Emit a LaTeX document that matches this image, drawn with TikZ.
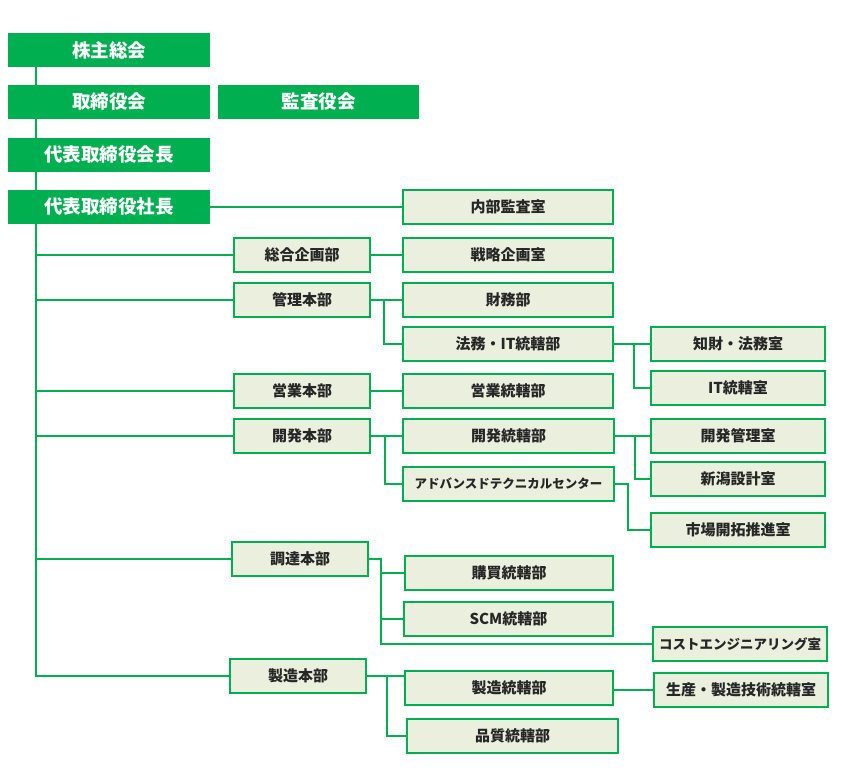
\documentclass[tikz,border=0pt]{standalone}
\usepackage{fontspec}
\newfontfamily\jp{Noto Sans CJK JP}
\usetikzlibrary{backgrounds}
\definecolor{grn}{HTML}{00B050}
\definecolor{lfill}{HTML}{EBEFDD}
\definecolor{txt}{HTML}{262626}
\tikzset{
 gbox/.style={anchor=north west, fill=grn, text=white, font=\jp\bfseries\fontsize{18.5}{18.5}\selectfont, minimum height=34pt, inner sep=0pt, outer sep=0pt},
 lbox/.style={anchor=north west, fill=lfill, draw=grn, line width=1.2pt, text=txt, font=\jp\bfseries\fontsize{15}{15}\selectfont, minimum height=34pt, inner sep=0pt, outer sep=0pt},
 conn/.style={draw=grn, line width=2pt},
}
\begin{document}
\begin{tikzpicture}[x=1pt,y=-1pt]
\useasboundingbox (0,0) rectangle (849,781);
% executive boxes
\node[gbox, minimum width=202pt] (kabu) at (8,33) {株主総会};
\node[gbox, minimum width=202pt] (tori) at (8,85) {取締役会};
\node[gbox, minimum width=201pt] (kansa) at (218,85) {監査役会};
\node[gbox, minimum width=202pt] (kaicho) at (8,138) {代表取締役会長};
\node[gbox, minimum width=202pt] (shacho) at (8,190) {代表取締役社長};
% departments
\node[lbox, minimum width=210pt] (naibu) at (403,190) {内部監査室};
\node[lbox, minimum width=136pt] (sogo) at (234,238) {総合企画部};
\node[lbox, minimum width=210pt] (senryaku) at (403,238) {戦略企画室};
\node[lbox, minimum width=136pt] (kanri) at (234,283) {管理本部};
\node[lbox, minimum width=210pt] (zaimu) at (403,283) {財務部};
\node[lbox, minimum width=210pt] (homu) at (403,327) {法務・IT統轄部};
\node[lbox, minimum width=174pt] (chizai) at (651,327) {知財・法務室};
\node[lbox, minimum width=174pt] (itr) at (651,371) {IT統轄室};
\node[lbox, minimum width=136pt] (eigyo) at (234,374) {営業本部};
\node[lbox, minimum width=210pt] (eigyot) at (403,374) {営業統轄部};
\node[lbox, minimum width=136pt] (kaihatsu) at (234,419) {開発本部};
\node[lbox, minimum width=211pt] (kaihatsut) at (403,419) {開発統轄部};
\node[lbox, minimum width=211pt, font=\jp\bfseries\fontsize{12.5}{12.5}\selectfont] (atc) at (403,467) {アドバンスドテクニカルセンター};
\node[lbox, minimum width=174pt] (kanrishitsu) at (651,419) {開発管理室};
\node[lbox, minimum width=174pt] (niigata) at (651,462) {新潟設計室};
\node[lbox, minimum width=174pt] (shijo) at (651,513) {市場開拓推進室};
\node[lbox, minimum width=136pt] (chotatsu) at (232,542) {調達本部};
\node[lbox, minimum width=208pt] (kobai) at (405,556) {購買統轄部};
\node[lbox, minimum width=209pt] (scm) at (404,602) {SCM統轄部};
\node[lbox, minimum width=174pt, font=\jp\bfseries\fontsize{13.5}{13.5}\selectfont] (cost) at (653,627) {コストエンジニアリング室};
\node[lbox, minimum width=136pt] (seizo) at (230,659) {製造本部};
\node[lbox, minimum width=208pt] (seizot) at (405,671) {製造統轄部};
\node[lbox, minimum width=174pt] (seisan) at (654,673) {生産・製造技術統轄室};
\node[lbox, minimum width=211pt] (hinshitsu) at (407,719) {品質統轄部};
% connectors
\begin{scope}[on background layer]
\fill[white] (0,0) rectangle (849,781);
\coordinate (tx) at (36,0);
\draw[conn] (kabu.south -| tx) -- (seizo.west -| tx) -- (seizo.west);
\draw[conn] (sogo.west -| tx) -- (sogo.west);
\draw[conn] (kanri.west -| tx) -- (kanri.west);
\draw[conn] (eigyo.west -| tx) -- (eigyo.west);
\draw[conn] (kaihatsu.west -| tx) -- (kaihatsu.west);
\draw[conn] (chotatsu.west -| tx) -- (chotatsu.west);
\draw[conn] (shacho.east) -- (shacho.east -| naibu.west);
\draw[conn] (sogo.east) -- (sogo.east -| senryaku.west);
\draw[conn] (kanri.east) -- (kanri.east -| zaimu.west);
\draw[conn] (kanri.east) ++(14,0) |- (homu.west);
\draw[conn] (homu.east) -- (homu.east -| chizai.west);
\draw[conn] (homu.east) ++(21,0) |- (itr.west);
\draw[conn] (eigyo.east) -- (eigyo.east -| eigyot.west);
\draw[conn] (kaihatsu.east) -- (kaihatsu.east -| kaihatsut.west);
\draw[conn] (kaihatsu.east) ++(15,0) |- (atc.west);
\draw[conn] (kaihatsut.east) -- (kaihatsut.east -| kanrishitsu.west);
\draw[conn] (kaihatsut.east) ++(21,0) |- (niigata.west);
\draw[conn] (atc.east) -- ++(14,0) |- (shijo.west);
\draw[conn] (chotatsu.east) -- ++(13,0) |- (cost.west);
\draw[conn] (chotatsu.east) ++(13,0) |- (kobai.west);
\draw[conn] (chotatsu.east) ++(13,0) |- (scm.west);
\draw[conn] (seizo.east) -- (seizo.east -| seizot.west);
\draw[conn] (seizo.east) ++(21,0) |- (hinshitsu.west);
\draw[conn] (seisan.west -| seizot.east) -- (seisan.west);
\end{scope}
\end{tikzpicture}
\end{document}
